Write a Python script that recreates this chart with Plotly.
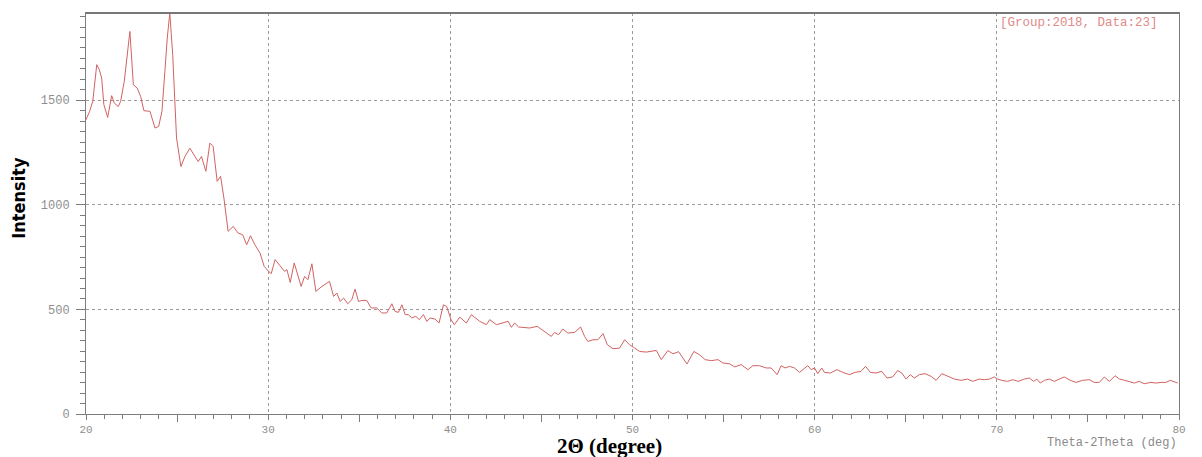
import plotly.graph_objects as go

# XRD scan: 2-theta (deg) vs counts
two_theta = [
    20.0, 20.2, 20.37, 20.59, 20.73, 20.86, 20.98, 21.19, 21.41, 21.55, 21.77, 21.9,
    22.1, 22.41, 22.6, 22.81, 23.0, 23.18, 23.51, 23.66, 23.79, 23.99, 24.17, 24.33,
    24.46, 24.6, 24.76, 24.97, 25.21, 25.43, 25.7, 25.98, 26.16, 26.34, 26.58, 26.8,
    26.98, 27.2, 27.39, 27.57, 27.8, 28.08, 28.35, 28.6, 28.82, 29.03, 29.27, 29.55,
    29.78, 30.02, 30.17, 30.38, 30.66, 30.9, 31.03, 31.21, 31.43, 31.63, 31.81, 32.0,
    32.18, 32.4, 32.62, 32.95, 33.37, 33.59, 33.77, 33.95, 34.14, 34.37, 34.59, 34.77,
    34.96, 35.14, 35.41, 35.65, 35.96, 36.24, 36.51, 36.79, 36.97, 37.15, 37.34, 37.52,
    37.7, 37.88, 38.1, 38.3, 38.52, 38.71, 38.89, 39.16, 39.38, 39.62, 39.8, 40.04,
    40.22, 40.52, 40.88, 41.16, 41.61, 41.98, 42.16, 42.53, 43.17, 43.35, 43.53, 43.75,
    44.35, 44.77, 45.18, 45.54, 45.72, 45.94, 46.18, 46.45, 46.82, 47.15, 47.37, 47.55,
    47.83, 48.1, 48.38, 48.62, 48.93, 49.29, 49.57, 49.84, 50.12, 50.39, 50.76, 51.03,
    51.31, 51.58, 51.94, 52.22, 52.53, 52.99, 53.37, 53.68, 53.99, 54.32, 54.69, 54.96,
    55.33, 55.61, 55.97, 56.33, 56.61, 56.97, 57.34, 57.61, 57.94, 58.16, 58.38, 58.62,
    58.89, 59.17, 59.4, 59.62, 59.81, 59.99, 60.17, 60.39, 60.53, 60.86, 61.23, 61.54,
    61.91, 62.22, 62.55, 62.79, 63.06, 63.37, 63.68, 63.97, 64.28, 64.56, 64.78, 65.02,
    65.25, 65.47, 65.75, 66.06, 66.39, 66.67, 66.98, 67.3, 67.67, 68.04, 68.4, 68.67,
    69.04, 69.31, 69.59, 69.86, 70.04, 70.26, 70.59, 70.87, 71.18, 71.51, 71.78, 72.02,
    72.2, 72.39, 72.61, 72.88, 73.16, 73.43, 73.7, 74.03, 74.35, 74.71, 75.08, 75.35,
    75.63, 75.9, 76.18, 76.49, 76.73, 77.0, 77.27, 77.55, 77.82, 78.09, 78.46, 78.74,
    79.01, 79.28, 79.52, 79.74, 79.93,
]
intensity = [
    1407, 1447, 1494, 1670, 1646, 1606, 1479, 1418, 1522, 1487, 1470, 1494,
    1590, 1829, 1574, 1558, 1518, 1450, 1447, 1407, 1367, 1375, 1447, 1638,
    1797, 1917, 1717, 1319, 1183, 1231, 1271, 1231, 1207, 1231, 1160, 1295,
    1279, 1112, 1136, 1033, 873, 897, 865, 857, 809, 852, 809, 770,
    706, 682, 671, 738, 706, 682, 690, 629, 722, 658, 610, 658,
    642, 718, 586, 610, 634, 562, 578, 538, 554, 527, 546, 597,
    538, 543, 543, 507, 507, 483, 483, 527, 490, 486, 522, 475,
    475, 459, 467, 451, 475, 443, 459, 454, 435, 522, 514, 451,
    427, 463, 435, 475, 443, 427, 451, 427, 443, 414, 435, 416,
    411, 419, 395, 371, 390, 379, 406, 387, 390, 416, 371, 347,
    355, 355, 384, 331, 312, 315, 355, 331, 315, 299, 296, 299,
    304, 260, 303, 288, 298, 239, 299, 283, 260, 255, 260, 244,
    240, 225, 236, 212, 231, 231, 220, 220, 188, 231, 220, 228,
    220, 199, 215, 231, 212, 220, 193, 220, 199, 196, 212, 199,
    188, 199, 204, 228, 199, 196, 204, 172, 177, 208, 196, 167,
    188, 172, 188, 193, 180, 161, 193, 180, 167, 161, 167, 156,
    167, 164, 167, 177, 167, 161, 156, 164, 156, 167, 172, 156,
    167, 148, 161, 167, 156, 167, 177, 161, 151, 161, 164, 151,
    151, 177, 156, 183, 167, 161, 156, 148, 156, 145, 151, 148,
    151, 151, 161, 156, 148,
]

x_major = [20, 30, 40, 50, 60, 70, 80]
x_mid = [25, 35, 45, 55, 65, 75]
y_major = [0, 500, 1000, 1500]

x_range = [20, 80]
y_range = [0, 1917]

axis_grey = "#7c7c7c"
label_grey = "#8e8e8e"
mono = "Liberation Mono, Courier New, monospace"

fig = go.Figure()
fig.add_trace(go.Scatter(
    x=two_theta, y=intensity, mode="lines",
    line=dict(color="#d26262", width=1),
    showlegend=False, hoverinfo="skip",
))

fig.update_layout(
    width=1202, height=457,
    margin=dict(l=86, r=23, t=13, b=43),
    paper_bgcolor="white", plot_bgcolor="white",
    xaxis=dict(
        range=x_range, tickvals=x_major, ticktext=[str(v) for v in x_major],
        showgrid=True, gridcolor="#9a9a9a", griddash="dot", gridwidth=1,
        zeroline=False, showline=True, linecolor=axis_grey, linewidth=1, mirror=True,
        ticks="outside", ticklen=5, tickcolor=axis_grey, tickwidth=1,
        tickfont=dict(family=mono, size=11, color=label_grey),
        minor=dict(dtick=1, ticks="outside", ticklen=4, tickcolor=axis_grey, showgrid=False),
    ),
    xaxis2=dict(
        range=x_range, overlaying="x", side="bottom", tickvals=x_mid,
        showticklabels=False, showgrid=False, zeroline=False, showline=False,
        ticks="outside", ticklen=7, tickcolor=axis_grey, tickwidth=1,
    ),
    yaxis=dict(
        range=y_range, tickvals=y_major, ticktext=[str(v) for v in y_major],
        showgrid=True, gridcolor="#9a9a9a", griddash="dot", gridwidth=1,
        zeroline=False, showline=True, linecolor=axis_grey, linewidth=1, mirror=True,
        ticks="outside", ticklen=9, tickcolor=axis_grey, tickwidth=1,
        tickfont=dict(family=mono, size=12, color=label_grey),
        ticklabelstandoff=4,
        minor=dict(dtick=50, ticks="outside", ticklen=5, tickcolor=axis_grey, showgrid=False),
    ),
)

# heavier top border of the frame
fig.add_shape(type="line", xref="paper", yref="paper", x0=0, x1=1, y0=1, y1=1,
              line=dict(color="#777777", width=2))

# empty trace so the secondary x axis (mid ticks) is drawn
fig.add_trace(go.Scatter(x=[None], y=[None], xaxis="x2", showlegend=False, hoverinfo="skip"))

fig.add_annotation(
    text="Intensity", textangle=-90, xref="paper", yref="paper",
    x=-0.062, y=0.54, xanchor="center", yanchor="middle", showarrow=False,
    font=dict(family="Liberation Sans Narrow, DejaVu Sans Condensed, sans-serif",
              size=18, color="black", weight="bold"),
)
fig.add_annotation(
    text="2\u0398 (degree)", xref="paper", yref="paper",
    x=0.479, y=-0.044, xanchor="center", yanchor="top", showarrow=False,
    font=dict(family="Liberation Serif, Times New Roman, serif", size=21,
              color="black", weight="bold"),
)
fig.add_annotation(
    text="Theta-2Theta (deg)", xref="paper", yref="paper",
    x=1.0, y=-0.05, xanchor="right", yanchor="top", showarrow=False,
    font=dict(family=mono, size=12, color="#8a8a8a"),
)
fig.add_annotation(
    text="[Group:2018, Data:23]", xref="paper", yref="paper",
    x=0.834, y=0.998, xanchor="left", yanchor="top", showarrow=False,
    font=dict(family=mono, size=12.5, color="#e08a8a"),
)

fig.write_html("out.html")
